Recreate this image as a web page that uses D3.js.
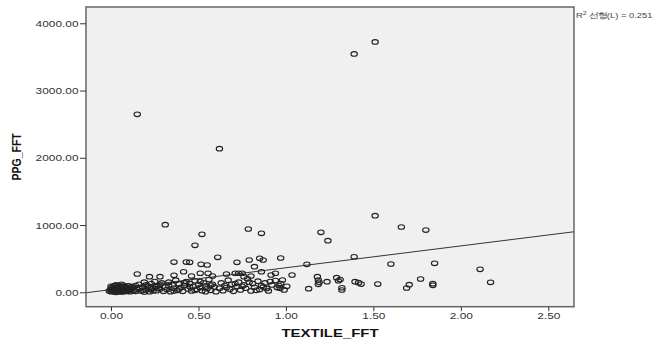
<!DOCTYPE html>
<html>
<head>
<meta charset="utf-8">
<script src="https://cdn.jsdelivr.net/npm/d3@7"></script>
<style>
  body { margin: 0; background: #fff; }
  svg { display: block; }
  text { font-family: "Liberation Sans", Arial, sans-serif; }
</style>
</head>
<body>
<svg id="chart" width="672" height="339"></svg>
<script>
// TEXTILE_FFT (x) against PPG_FFT (y) observations
const textileFFT = [
  1.51, 1.39, 0.15, 0.62,
  1.51, 1.66, 1.80, 1.20, 1.24, 0.31, 0.52, 0.48, 0.785, 0.86,
  1.39, 1.12, 1.60, 1.85, 2.11, 2.17,
  0.36, 0.43, 0.45, 0.515, 0.55, 0.61, 0.72, 0.79, 0.85, 0.87, 0.82, 0.97,
  0.15, 0.22, 0.28,
  0.36, 0.415, 0.46, 0.51, 0.555, 0.58, 0.66, 0.71, 0.73, 0.75, 0.76, 0.80, 0.86, 0.915, 0.94,
  0.98, 1.005, 1.035, 0.967, 1.13, 1.18, 1.185, 1.19, 1.185, 1.235, 1.29, 1.30, 1.31, 1.32, 1.32,
  1.395, 1.415, 1.43, 1.525, 1.69, 1.705, 1.77, 1.84, 1.84,
  0.00, 0.01, 0.02, 0.00, 0.03, 0.01, 0.04, 0.02, 0.05, 0.03, 0.06, 0.04, 0.07, 0.05, 0.08, 0.06,
  0.09, 0.07, 0.10, 0.08, 0.11, 0.09, 0.12, 0.10, 0.02, 0.03, 0.05, 0.06, 0.07, 0.08, 0.09, 0.10,
  0.11, 0.12, 0.04, 0.01, 0.00, 0.13, 0.13, 0.14, 0.14, 0.06, 0.00, -0.01, 0.02, 0.05, 0.08, 0.11,
  0.03, 0.07,
  0.15, 0.16, 0.17, 0.18, 0.19, 0.20, 0.21, 0.22, 0.23, 0.24, 0.25, 0.26, 0.27, 0.28, 0.29, 0.30,
  0.16, 0.18, 0.20, 0.22, 0.24, 0.26, 0.28, 0.19, 0.23, 0.27,
  0.31, 0.32, 0.33, 0.34, 0.35, 0.36, 0.37, 0.38, 0.39, 0.40, 0.41, 0.42, 0.43, 0.44, 0.45, 0.46,
  0.47, 0.48, 0.49, 0.50, 0.51, 0.52, 0.53, 0.54, 0.55, 0.56, 0.57, 0.58, 0.59, 0.60, 0.33, 0.36,
  0.39, 0.42, 0.45, 0.48, 0.51, 0.54, 0.57,
  0.62, 0.63, 0.64, 0.65, 0.67, 0.68, 0.69, 0.70, 0.72, 0.73, 0.74, 0.76, 0.77, 0.78, 0.80, 0.81,
  0.82, 0.84, 0.85, 0.86, 0.88, 0.89, 0.90, 0.92, 0.94, 0.95, 0.97, 0.99, 0.66, 0.71, 0.75, 0.79,
  0.83, 0.87, 0.91, 0.96
];
const ppgFFT = [
  3722, 3544, 2647, 2135,
  1139, 971, 926, 892, 767, 1006, 862, 699, 941, 877,
  529, 416, 421, 431, 342, 149,
  450, 450, 446, 416, 406, 520, 446, 480, 505, 480, 381, 510,
  272, 232, 232,
  253, 306, 242, 283, 283, 242, 272, 283, 283, 283, 232, 242, 306, 257, 283,
  183, 89, 257, 59, 54, 232, 183, 149, 119, 158, 217, 172, 190, 68, 34,
  158, 143, 123, 123, 64, 113, 198, 128, 104,
  10, 30, 5, 55, 20, 80, 45, 100, 15, 65, 35, 90, 8, 60, 25, 75,
  50, 105, 18, 70, 40, 12, 85, 60, 40, 110, 95, 5, 42, 90, 30, 95,
  10, 55, 12, 15, 35, 30, 70, 15, 100, 118, 90, 20, 70, 38, 50, 75,
  0, 70,
  45, 120, 20, 80, 150, 35, 95, 10, 130, 60, 160, 25, 100, 50, 140, 15,
  65, 30, 110, 70, 20, 85, 120, 5, 45, 60,
  80, 40, 150, 10, 110, 60, 180, 30, 125, 75, 15, 100, 160, 50, 130, 20,
  90, 170, 45, 115, 70, 25, 140, 95, 55, 190, 30, 120, 80, 10, 95, 20,
  50, 140, 85, 30, 160, 10, 105,
  60, 140, 25, 100, 180, 45, 120, 15, 85, 150, 35, 110, 60, 200, 20, 130,
  75, 165, 40, 100, 140, 55, 20, 110, 175, 70, 130, 35, 70, 130, 90, 150,
  30, 80, 160, 100
];

// Linear fit (R² = 0.251): intercept and slope
const fitIntercept = 40;
const fitSlope = 325;
const rSquared = "0.251";

const xTicks = [0, 0.5, 1.0, 1.5, 2.0, 2.5];
const yTicks = [0, 1000, 2000, 3000, 4000];

const svg = d3.select("#chart");
const plotLeft = 86, plotRight = 574, plotTop = 7, plotBottom = 306.7;
const sx = 1.25; // horizontal stretch of the text glyphs

const x = d3.scaleLinear().domain([-0.143, 2.647]).range([plotLeft, plotRight]);
const y = d3.scaleLinear().domain([-214, 4242]).range([plotBottom, plotTop]);

// plot background
svg.append("rect")
  .attr("x", plotLeft).attr("y", plotTop)
  .attr("width", plotRight - plotLeft).attr("height", plotBottom - plotTop)
  .attr("fill", "#f0f0f0");

const clip = svg.append("defs").append("clipPath").attr("id", "plotclip");
clip.append("rect").attr("x", plotLeft).attr("y", plotTop)
  .attr("width", plotRight - plotLeft).attr("height", plotBottom - plotTop);

const plot = svg.append("g").attr("clip-path", "url(#plotclip)");

// fit line
const x0 = x.domain()[0], x1 = x.domain()[1];
plot.append("line")
  .attr("x1", x(x0)).attr("y1", y(fitIntercept + fitSlope * x0))
  .attr("x2", x(x1)).attr("y2", y(fitIntercept + fitSlope * x1))
  .attr("stroke", "#333").attr("stroke-width", 1);

// observations
const points = textileFFT.map((v, i) => [v, ppgFFT[i]]);
plot.selectAll("ellipse.pt").data(points).join("ellipse")
  .attr("class", "pt")
  .attr("cx", d => x(d[0]))
  .attr("cy", d => y(d[1]))
  .attr("rx", 3.2).attr("ry", 2.3)
  .attr("fill", "none")
  .attr("stroke", "#222")
  .attr("stroke-width", 1.1);

// frame
svg.append("rect")
  .attr("x", plotLeft).attr("y", plotTop)
  .attr("width", plotRight - plotLeft).attr("height", plotBottom - plotTop)
  .attr("fill", "none").attr("stroke", "#666").attr("stroke-width", 1.5);

// axes
const fmt = d3.format(".2f");
const xAxis = svg.append("g")
  .attr("transform", `translate(0,${plotBottom})`)
  .call(d3.axisBottom(x).tickValues(xTicks).tickFormat(fmt).tickSizeOuter(0).tickSize(4.5));
xAxis.select(".domain").remove();
xAxis.selectAll("line").attr("stroke", "#333");
xAxis.selectAll("text")
  .attr("y", 5.5)
  .attr("fill", "#333")
  .style("font-size", "9.5px")
  .attr("transform", `scale(${sx},1)`);

const yAxis = svg.append("g")
  .attr("transform", `translate(${plotLeft},0)`)
  .call(d3.axisLeft(y).tickValues(yTicks).tickFormat(fmt).tickSizeOuter(0).tickSize(6));
yAxis.select(".domain").remove();
yAxis.selectAll("line").attr("stroke", "#333");
yAxis.selectAll("text")
  .attr("x", -7.5 / sx)
  .attr("fill", "#333")
  .style("font-size", "9.5px")
  .attr("transform", `scale(${sx},1)`);

// axis titles
svg.append("text")
  .attr("transform", `translate(${(plotLeft + plotRight) / 2},337) scale(1.3,1)`)
  .attr("text-anchor", "middle")
  .style("font-size", "11.5px").style("font-weight", "bold")
  .attr("fill", "#111")
  .text("TEXTILE_FFT");

svg.append("text")
  .attr("transform", `translate(21,${(plotTop + plotBottom) / 2}) scale(1.3,1) rotate(-90)`)
  .attr("text-anchor", "middle")
  .style("font-size", "10.5px").style("font-weight", "bold")
  .attr("fill", "#111")
  .text("PPG_FFT");

// fit annotation
const ann = svg.append("text")
  .attr("transform", `translate(576,18) scale(${sx},1)`)
  .style("font-size", "7.5px")
  .attr("fill", "#444");
ann.append("tspan").text("R");
ann.append("tspan").attr("dy", -3).style("font-size", "5.5px").text("2");
ann.append("tspan").attr("dy", 3).text(" 선형(L) = " + rSquared);
</script>
</body>
</html>
